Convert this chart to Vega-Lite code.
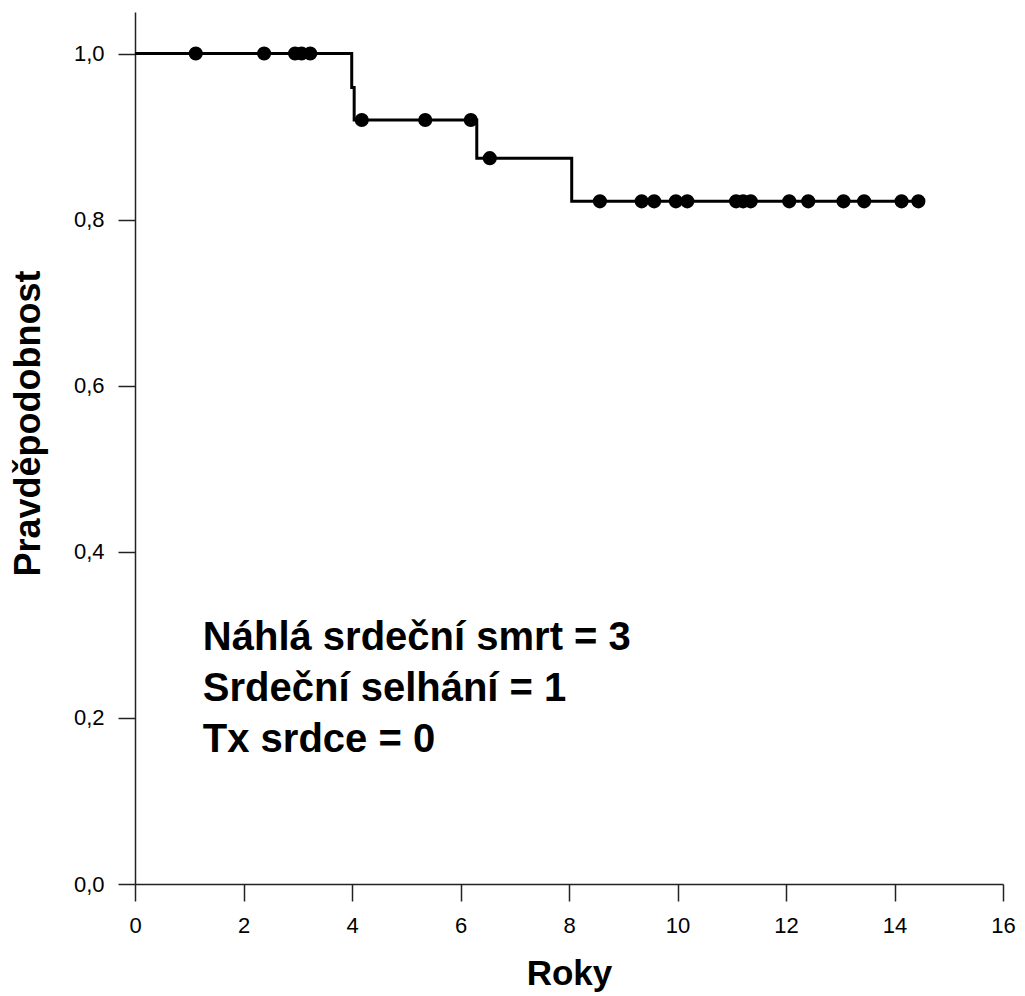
{
  "$schema": "https://vega.github.io/schema/vega-lite/v6.json",
  "width": 868,
  "height": 872,
  "autosize": {"type": "none"},
  "padding": {"left": 135, "top": 12, "right": 22, "bottom": 112},
  "background": "white",
  "config": {
    "view": {"stroke": null},
    "font": "Liberation Sans",
    "axis": {"grid": false, "domainColor": "#222", "tickColor": "#222", "domainWidth": 1.5, "tickWidth": 1.5, "tickSize": 17, "labelFont": "Liberation Sans", "labelColor": "black", "titleFont": "Liberation Sans", "titleFontWeight": "bold", "titleColor": "black"}
  },
  "datasets": {
    "curve": [
      {"t": 0, "p": 1.0},
      {"t": 3.995, "p": 0.959},
      {"t": 4.04, "p": 0.92},
      {"t": 6.3, "p": 0.874},
      {"t": 8.05, "p": 0.822},
      {"t": 14.5, "p": 0.822}
    ],
    "censored": [
      {"t": 1.12, "p": 1.0},
      {"t": 2.38, "p": 1.0},
      {"t": 2.95, "p": 1.0},
      {"t": 3.07, "p": 1.0},
      {"t": 3.23, "p": 1.0},
      {"t": 4.18, "p": 0.92},
      {"t": 5.35, "p": 0.92},
      {"t": 6.19, "p": 0.92},
      {"t": 6.54, "p": 0.874},
      {"t": 8.57, "p": 0.822},
      {"t": 9.34, "p": 0.822},
      {"t": 9.57, "p": 0.822},
      {"t": 9.97, "p": 0.822},
      {"t": 10.18, "p": 0.822},
      {"t": 11.08, "p": 0.822},
      {"t": 11.21, "p": 0.822},
      {"t": 11.35, "p": 0.822},
      {"t": 12.06, "p": 0.822},
      {"t": 12.41, "p": 0.822},
      {"t": 13.06, "p": 0.822},
      {"t": 13.44, "p": 0.822},
      {"t": 14.13, "p": 0.822},
      {"t": 14.44, "p": 0.822}
    ]
  },
  "layer": [
    {
      "data": {"name": "curve"},
      "mark": {"type": "line", "interpolate": "step-after", "color": "black", "strokeWidth": 3},
      "encoding": {
        "x": {"field": "t", "type": "quantitative", "scale": {"domain": [0, 16], "nice": false, "zero": false},
          "axis": {"title": "Roky", "titleFontSize": 35, "labelFontSize": 22, "labelFlush": false, "values": [0, 2, 4, 6, 8, 10, 12, 14, 16], "labelPadding": 14, "titlePadding": 20}},
        "y": {"field": "p", "type": "quantitative", "scale": {"domain": [0, 1.05], "nice": false},
          "axis": {"title": "Pravděpodobnost", "titleFontSize": 36, "labelFontSize": 22, "labelFlush": false, "values": [0, 0.2, 0.4, 0.6, 0.8, 1.0], "labelExpr": "replace(format(datum.value, '.1f'), '.', ',')", "labelPadding": 14, "titlePadding": 26, "titleY": 411}}
      }
    },
    {
      "data": {"name": "censored"},
      "mark": {"type": "point", "filled": true, "color": "black", "size": 200, "opacity": 1},
      "encoding": {
        "x": {"field": "t", "type": "quantitative"},
        "y": {"field": "p", "type": "quantitative"}
      }
    },
    {
      "data": {"values": [{}]},
      "mark": {"type": "text", "align": "left", "baseline": "alphabetic", "fontSize": 40, "fontWeight": "bold", "font": "Liberation Sans", "color": "black", "lineHeight": 51,
        "text": ["Náhlá srdeční smrt = 3", "Srdeční selhání = 1", "Tx srdce = 0"]},
      "encoding": {
        "x": {"datum": 1.25, "type": "quantitative"},
        "y": {"datum": 0.2816, "type": "quantitative"}
      }
    }
  ]
}
